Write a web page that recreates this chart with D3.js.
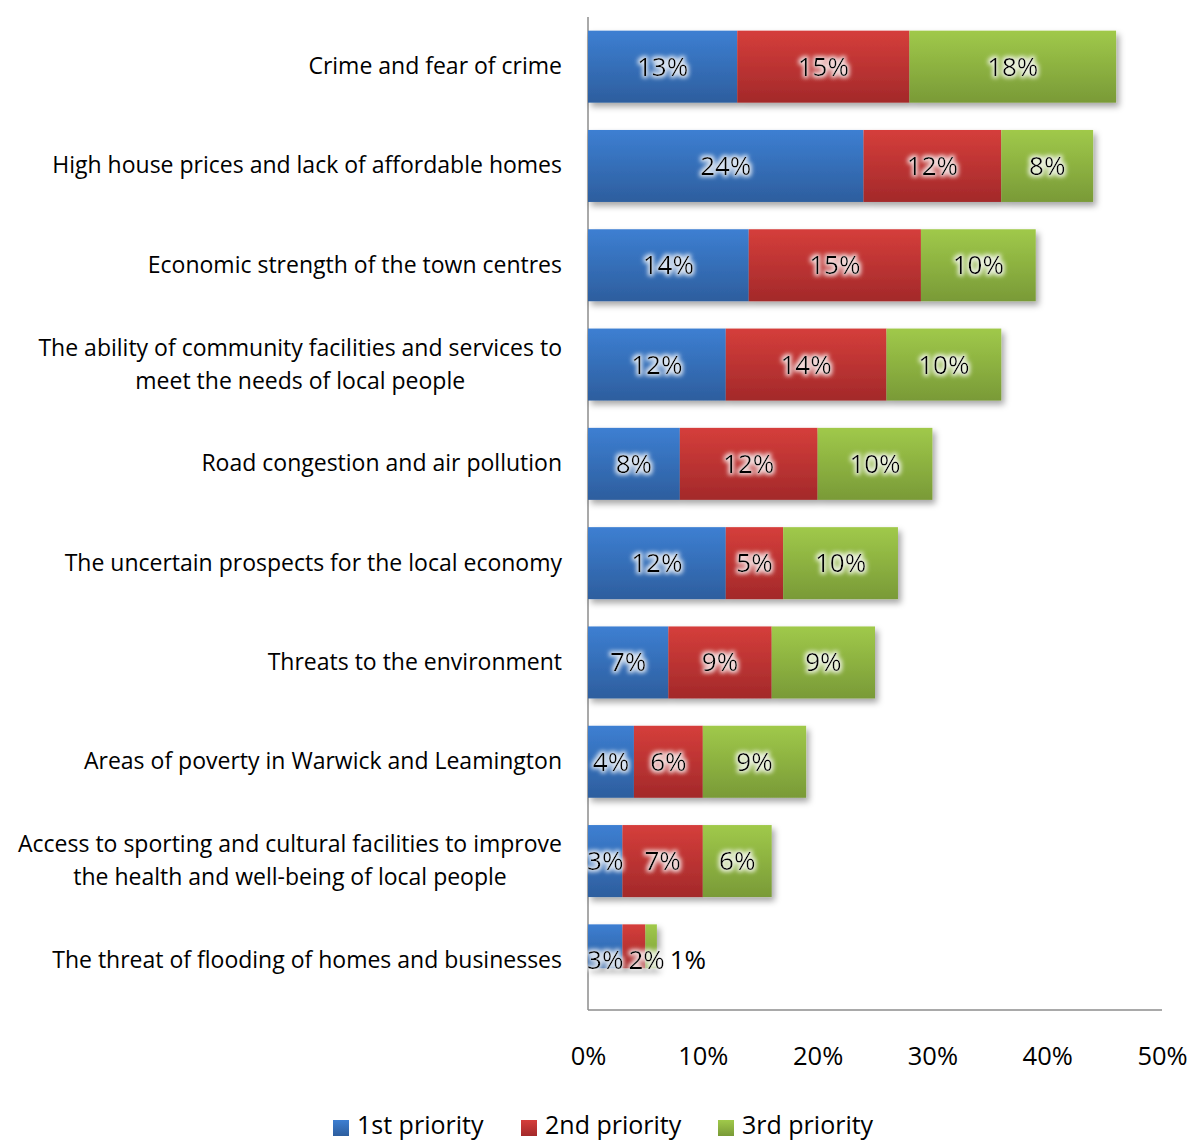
<!DOCTYPE html>
<html>
<head>
<meta charset="utf-8">
<script src="https://cdn.jsdelivr.net/npm/d3@7"></script>
<style>
  html, body { margin: 0; padding: 0; background: #fff; }
  svg { display: block; font-family: "Open Sans", Lato, sans-serif; }
</style>
</head>
<body>
<svg id="chart" width="1192" height="1142"></svg>
<script>
// Survey results: share of respondents naming each issue as a priority
const categories = [
  ["Crime and fear of crime"],
  ["High house prices and lack of affordable homes"],
  ["Economic strength of the town centres"],
  ["The ability of community facilities and services to", "meet the needs of local people"],
  ["Road congestion and air pollution"],
  ["The uncertain prospects for the local economy"],
  ["Threats to the environment"],
  ["Areas of poverty in Warwick and Leamington"],
  ["Access to sporting and cultural facilities to improve", "the health and well-being of local people"],
  ["The threat of flooding of homes and businesses"]
];
const seriesNames = ["1st priority", "2nd priority", "3rd priority"];
const first  = [13, 24, 14, 12, 8, 12, 7, 4, 3, 3];
const second = [15, 12, 15, 14, 12, 5, 9, 6, 7, 2];
const third  = [18, 8, 10, 10, 10, 10, 9, 9, 6, 1];
const xTicks = [0, 10, 20, 30, 40, 50];

const colors = [
  { top: "#3d7fd2", bottom: "#2d5e9e" },
  { top: "#d53e3b", bottom: "#a3292a" },
  { top: "#a0c94a", bottom: "#799a37" }
];

const svg = d3.select("#chart");
const plotLeft = 588, plotRight = 1162, plotTop = 17, plotBottom = 1010;

const x = d3.scaleLinear().domain([0, 50]).range([plotLeft, plotRight]);
const y = d3.scaleBand().domain(d3.range(categories.length)).range([plotTop, plotBottom])
  .paddingInner(0.275).paddingOuter(0.1375);

const defs = svg.append("defs");
colors.forEach((c, i) => {
  const g = defs.append("linearGradient").attr("id", "grad" + i)
    .attr("x1", 0).attr("y1", 0).attr("x2", 0).attr("y2", 1);
  g.append("stop").attr("offset", "0%").attr("stop-color", c.top);
  g.append("stop").attr("offset", "100%").attr("stop-color", c.bottom);
});
// soft shadow under bars
const sh = defs.append("filter").attr("id", "shadow").attr("x", "-10%").attr("y", "-20%").attr("width", "130%").attr("height", "160%");
sh.append("feDropShadow").attr("dx", 3).attr("dy", 4).attr("stdDeviation", 3)
  .attr("flood-color", "#000").attr("flood-opacity", 0.35);
// light halo behind data labels
const glow = defs.append("filter").attr("id", "glow").attr("x", "-20%").attr("y", "-30%").attr("width", "140%").attr("height", "160%");
glow.append("feMorphology").attr("in", "SourceAlpha").attr("operator", "dilate").attr("radius", 2.2).attr("result", "dil");
glow.append("feGaussianBlur").attr("in", "dil").attr("stdDeviation", 2.2).attr("result", "blur");
glow.append("feFlood").attr("flood-color", "#ffffff").attr("flood-opacity", 0.8).attr("result", "white");
glow.append("feComposite").attr("in", "white").attr("in2", "blur").attr("operator", "in").attr("result", "halo");
const gm = glow.append("feMerge");
gm.append("feMergeNode").attr("in", "halo");
gm.append("feMergeNode").attr("in", "SourceGraphic");

const rows = categories.map((c, i) => {
  const vals = [first[i], second[i], third[i]];
  let acc = 0;
  return vals.map((v, s) => { const seg = { row: i, s, v, x0: acc, x1: acc + v }; acc += v; return seg; });
});

// the last row is drawn as a slimmer bar
const barHeight = i => i === categories.length - 1 ? y.bandwidth() * 0.61 : y.bandwidth();

// axes
svg.append("line").attr("x1", plotLeft).attr("x2", plotLeft).attr("y1", plotTop).attr("y2", plotBottom)
  .attr("stroke", "#8c8c8c").attr("stroke-width", 1.5);
svg.append("line").attr("x1", plotLeft).attr("x2", plotRight).attr("y1", plotBottom).attr("y2", plotBottom)
  .attr("stroke", "#8c8c8c").attr("stroke-width", 1.5);

const xAxis = svg.append("g").attr("transform", `translate(0,${plotBottom})`)
  .call(d3.axisBottom(x).tickValues(xTicks).tickFormat(d => d + "%").tickSize(0).tickPadding(37));
xAxis.select(".domain").remove();
xAxis.selectAll("text").attr("font-size", 25.5).attr("fill", "#000").attr("font-family", "'Open Sans', sans-serif");

// bars
const rowG = svg.append("g").selectAll("g").data(rows).join("g").attr("filter", "url(#shadow)");
rowG.selectAll("rect").data(d => d).join("rect")
  .attr("x", d => x(d.x0))
  .attr("width", d => x(d.x1) - x(d.x0))
  .attr("y", d => y(d.row))
  .attr("height", d => barHeight(d.row))
  .attr("fill", d => `url(#grad${d.s})`);

// data labels, nudged right where neighbours would collide
const labelG = svg.append("g");
rows.forEach((segs, i) => {
  let prevEnd = -Infinity;
  segs.forEach(d => {
    const t = labelG.append("text")
      .attr("font-size", 26).attr("fill", "#000")
      .attr("text-anchor", "middle").attr("dominant-baseline", "central")
      .attr("y", y(i) + y.bandwidth() / 2 - 1)
      .attr("x", (x(d.x0) + x(d.x1)) / 2)
      .text(d.v + "%");
    const w = t.node().getComputedTextLength();
    let cx = (x(d.x0) + x(d.x1)) / 2;
    if (cx - w / 2 < prevEnd + 5) cx = prevEnd + 5 + w / 2;
    t.attr("x", cx);
    const inside = cx - w / 2 < x(d.x1);
    if (inside) t.attr("filter", "url(#glow)");
    prevEnd = cx + w / 2;
  });
});

// category labels
const catG = svg.append("g");
categories.forEach((lines, i) => {
  const cy = y(i) + y.bandwidth() / 2 - 1.5;
  const lh = 33;
  const t = catG.append("text").attr("font-size", 23).attr("fill", "#000")
    .attr("dominant-baseline", "central");
  const spans = lines.map((ln, k) => t.append("tspan").attr("y", cy + (k - (lines.length - 1) / 2) * lh).text(ln));
  const widths = spans.map(s => s.node().getComputedTextLength());
  const maxW = d3.max(widths);
  const centre = 562 - maxW / 2;
  spans.forEach(s => s.attr("x", centre).attr("text-anchor", "middle"));
});

// legend
const legend = svg.append("g");
const legendX = [333, 521, 718];
seriesNames.forEach((name, i) => {
  legend.append("rect").attr("x", legendX[i]).attr("y", 1120).attr("width", 16).attr("height", 16)
    .attr("fill", `url(#grad${i})`);
  legend.append("text").attr("x", legendX[i] + 24).attr("y", 1124).attr("dominant-baseline", "central")
    .attr("font-size", 25).attr("fill", "#000").text(name);
});
</script>
</body>
</html>
